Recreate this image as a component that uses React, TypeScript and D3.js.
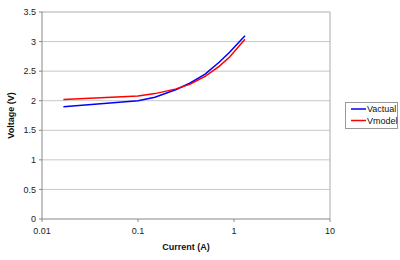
import React from "react";
import * as d3 from "d3";

const currents = [0.0167, 0.1, 0.15, 0.25, 0.35, 0.5, 0.7, 0.9, 1.3];
const vActual = [1.9, 2.0, 2.06, 2.19, 2.3, 2.45, 2.65, 2.82, 3.1];
const vModel = [2.02, 2.08, 2.12, 2.2, 2.28, 2.41, 2.58, 2.74, 3.04];
const xTicks = [0.01, 0.1, 1, 10];
const xTickLabels = ["0.01", "0.1", "1", "10"];
const yTicks = [0, 0.5, 1, 1.5, 2, 2.5, 3, 3.5];
const seriesNames = ["Vactual", "Vmodel"];
const seriesColors = ["#0000ff", "#ff0000"];

export default function App() {
  const W = 400, H = 260;
  const L = 42, R = 330, T = 12, B = 219;
  const x = d3.scaleLog().domain([0.01, 10]).range([L, R]);
  const y = d3.scaleLinear().domain([0, 3.5]).range([B, T]);
  const font = "'Liberation Sans', Arial, sans-serif";
  const series = [vActual, vModel];
  const line = d3
    .line<[number, number]>()
    .x((d) => x(d[0]))
    .y((d) => y(d[1]));
  return (
    <svg
      width={W}
      height={H}
      style={{ position: "absolute", left: 0, top: 0, background: "#fff" }}
      fontFamily={font}
    >
      <rect x={0} y={0} width={W} height={H} fill="#fff" />
      {yTicks.map((t) => (
        <g key={t}>
          {t > 0 && (
            <line x1={L} x2={R} y1={y(t)} y2={y(t)} stroke="#c8c8c8" strokeWidth={1} />
          )}
          <line x1={L - 3} x2={L} y1={y(t)} y2={y(t)} stroke="#888" />
          <text x={L - 6} y={y(t)} dy="0.35em" textAnchor="end" fontSize={9} fill="#222">
            {t}
          </text>
        </g>
      ))}
      <line x1={R} x2={R} y1={T} y2={B} stroke="#aaa" />
      <line x1={L} x2={R} y1={T} y2={T} stroke="#c8c8c8" />
      <line x1={L} x2={L} y1={T} y2={B} stroke="#888" />
      <line x1={L} x2={R} y1={B} y2={B} stroke="#888" />
      {xTicks.map((t, i) => (
        <g key={t}>
          <line x1={x(t)} x2={x(t)} y1={B} y2={B + 3} stroke="#888" />
          <text x={x(t)} y={B + 15} textAnchor="middle" fontSize={9} fill="#222">
            {xTickLabels[i]}
          </text>
        </g>
      ))}
      {series.map((s, i) => (
        <path
          key={i}
          d={line(currents.map((c, j) => [c, s[j]] as [number, number])) || ""}
          fill="none"
          stroke={seriesColors[i]}
          strokeWidth={1.5}
        />
      ))}
      <text x={186} y={250} textAnchor="middle" fontSize={9} fontWeight="bold" fill="#111">
        Current (A)
      </text>
      <text
        transform={`translate(14,${(T + B) / 2}) rotate(-90)`}
        textAnchor="middle"
        fontSize={9}
        fontWeight="bold"
        fill="#111"
      >
        Voltage (V)
      </text>
      <rect x={345.5} y={102.5} width={52} height={26} fill="#fff" stroke="#999" />
      {seriesNames.map((n, i) => (
        <g key={n}>
          <line
            x1={351}
            x2={366}
            y1={109 + i * 11.5}
            y2={109 + i * 11.5}
            stroke={seriesColors[i]}
            strokeWidth={1.5}
          />
          <text x={367} y={109 + i * 11.5} dy="0.35em" fontSize={9} fill="#111">
            {n}
          </text>
        </g>
      ))}
    </svg>
  );
}
